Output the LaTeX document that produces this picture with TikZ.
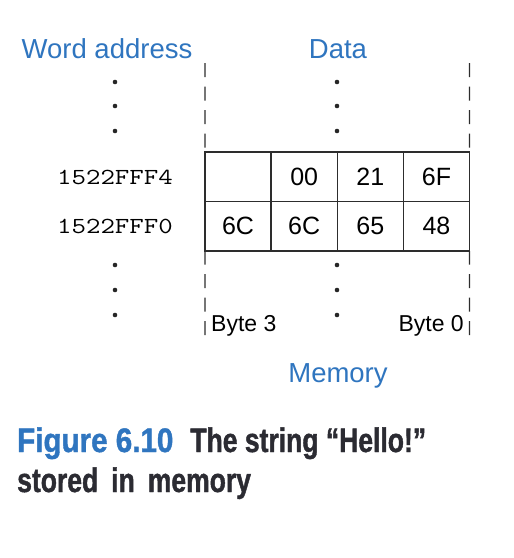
\documentclass[tikz,border=0pt]{standalone}
\usepackage{fontspec}
\setmainfont{Liberation Sans}
\newfontfamily\capfont[FakeStretch=0.78,FakeBold=1.2]{Liberation Sans}
\newfontfamily\figfont[FakeStretch=0.87,FakeBold=1.2]{Liberation Sans}
\definecolor{figblue}{RGB}{47,117,191}
\definecolor{capgray}{RGB}{43,43,50}
\definecolor{linegray}{RGB}{45,45,45}
\begin{document}
\begin{tikzpicture}[x=1pt,y=-1pt,
  cell/.style={draw=linegray,line width=1.4pt,minimum width=66.125pt,minimum height=49.5pt,inner sep=0pt,outer sep=0pt,text=black,font=\fontsize{25}{30}\selectfont},
  addr/.style={inner sep=0pt,anchor=east,font=\ttfamily\fontsize{23}{28}\selectfont},
  bluelabel/.style={inner sep=0pt,anchor=base,text=figblue,font=\fontsize{27.5}{33}\selectfont},
  bytelabel/.style={inner sep=0pt,font=\fontsize{23}{28}\selectfont},
  vdash/.style={draw=linegray,line width=1.4pt,dash pattern=on 14pt off 9.5pt},
  capline/.style={inner sep=0pt,anchor=base west,text=capgray,font=\capfont\bfseries\fontsize{34}{40}\selectfont},
  dot/.style={fill=black!85}]
\useasboundingbox (0,0) rectangle (514,558);

% labels
\node[bluelabel] (wa) at (107,58) {Word address};
\node[bluelabel] (data) at (338,58) {Data};
\node[bluelabel] (mem) at (338,382) {Memory};

% memory cells
\node[cell] (c13) at (238.06,176.75) {};
\node[cell] (c12) at (304.19,176.75) {00};
\node[cell] (c11) at (370.31,176.75) {21};
\node[cell] (c10) at (436.44,176.75) {6F};
\node[cell] (c03) at (238.06,226.25) {6C};
\node[cell] (c02) at (304.19,226.25) {6C};
\node[cell] (c01) at (370.31,226.25) {65};
\node[cell] (c00) at (436.44,226.25) {48};

% addresses
\node[addr] (a1) at (173,177.5) {\scalebox{1.22}[1]{1522FFF4}};
\node[addr] (a0) at (173,226.5) {\scalebox{1.22}[1]{1522FFF0}};

% dashed edges
\coordinate (tl) at (205,63);
\coordinate (tr) at (469.5,63);
\coordinate (bl) at (205,335);
\coordinate (br) at (469.5,335);
\draw[vdash] (tl) -- (c13.north west);
\draw[vdash] (tr) -- (c10.north east);
\draw[vdash] (bl) -- (c03.south west);
\draw[vdash] (br) -- (c00.south east);

% dots
\foreach \y in {82,106,131,265,290,315}{
  \fill[dot] (115,\y) circle (2.3);
  \fill[dot] (337,\y) circle (2.3);
}

% byte labels
\node[bytelabel,anchor=base west] (b3) at (211,331) {Byte 3};
\node[bytelabel,anchor=base east] (b0) at (464,331) {Byte 0};

% caption
\node[capline] (cap1) at (17,452) {\textcolor{figblue}{\figfont\bfseries Figure 6.10}\hspace{17pt}The string “Hello!”};
\node[capline] (cap2) at (17,492) {stored\hspace{13pt}in\hspace{13pt}memory};
\end{tikzpicture}
\end{document}
